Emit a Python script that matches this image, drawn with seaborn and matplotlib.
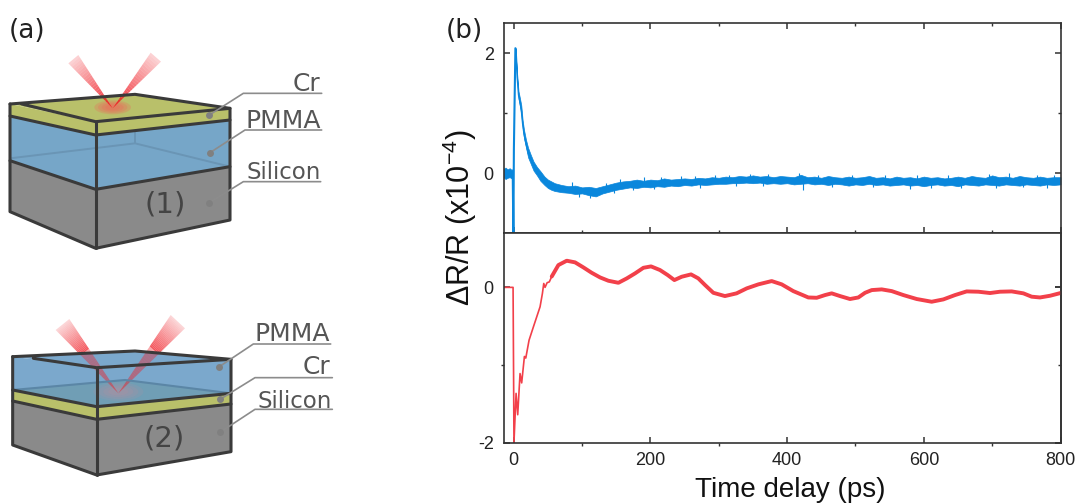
import numpy as np
import pandas as pd
import matplotlib
matplotlib.use("Agg")
import matplotlib.pyplot as plt
import seaborn as sns
from matplotlib.patches import Polygon, Ellipse

# trace values, time in ps, signal in 1e-4
blue_pre_time = [-15, -12, -9, -6, -3, -1.5]
blue_pre_upper = [0.07, 0.09, 0.06, 0.08, 0.05, 0.07]
blue_pre_lower = [-0.07, -0.10, -0.08, -0.07, -0.09, -0.06]
blue_rise_time = [-1.5, -0.6, -0.5, 0.2, 2.4]
blue_rise = [0.0, -1.0, -1.0, 0.4, 2.08]

blue_time = [3, 5, 7, 9, 11, 13, 15, 18, 21, 25, 29, 34, 39, 45, 50, 55, 60,
             70, 80, 90, 100, 110, 120, 130, 140, 150, 160, 170, 180, 190, 200,
             210, 220, 230, 240, 250, 260, 270, 280, 290, 300, 310, 320, 330, 340,
             350, 360, 370, 380, 390, 400, 410, 420, 430, 440, 450, 460, 470, 480,
             490, 500, 510, 520, 530, 540, 550, 560, 570, 580, 590, 600, 610, 620,
             630, 640, 650, 660, 670, 680, 690, 700, 710, 720, 730, 740, 750, 760,
             770, 780, 790, 800]
blue_upper = [2.08, 1.65, 1.36, 1.25, 1.13, 0.88, 0.72, 0.55, 0.42, 0.30, 0.19, 0.10, 0.03, -0.06, -0.11, -0.14, -0.17,
              -0.20, -0.22, -0.21, -0.24, -0.23, -0.25, -0.22, -0.19, -0.16, -0.14, -0.13, -0.11, -0.13, -0.11,
              -0.12, -0.09, -0.11, -0.10, -0.09, -0.10, -0.08, -0.09, -0.07, -0.08, -0.06, -0.07, -0.05, -0.06,
              -0.04, -0.06, -0.05, -0.07, -0.05, -0.06, -0.07, -0.03, -0.07, -0.06, -0.08, -0.05, -0.07, -0.08,
              -0.06, -0.08, -0.07, -0.05, -0.08, -0.07, -0.09, -0.06, -0.08, -0.07, -0.09, -0.06, -0.08, -0.07,
              -0.09, -0.08, -0.06, -0.08, -0.05, -0.07, -0.08, -0.04, -0.07, -0.06, -0.08, -0.05, -0.07, -0.08,
              -0.06, -0.08, -0.07, -0.07]
blue_lower = [1.95, 1.55, 1.24, 1.12, 0.98, 0.76, 0.58, 0.42, 0.26, 0.15, 0.04, -0.04, -0.13, -0.20, -0.25, -0.28, -0.30,
              -0.32, -0.33, -0.35, -0.34, -0.37, -0.39, -0.34, -0.31, -0.28, -0.26, -0.24, -0.25, -0.23, -0.24,
              -0.22, -0.23, -0.21, -0.22, -0.20, -0.21, -0.19, -0.20, -0.19, -0.18, -0.18, -0.17, -0.17, -0.16,
              -0.17, -0.16, -0.18, -0.17, -0.18, -0.17, -0.19, -0.18, -0.17, -0.19, -0.18, -0.20, -0.18, -0.19,
              -0.21, -0.19, -0.20, -0.18, -0.20, -0.19, -0.21, -0.20, -0.19, -0.21, -0.20, -0.22, -0.20, -0.19,
              -0.21, -0.20, -0.22, -0.19, -0.20, -0.21, -0.19, -0.20, -0.21, -0.19, -0.20, -0.21, -0.19, -0.20,
              -0.21, -0.19, -0.20, -0.19]
# single noise spikes that stick out of the band
blue_spike_time = [85, 135, 155, 190, 215, 245, 265, 295, 315, 345, 372, 418, 445, 495, 543, 590, 635, 695, 724, 765, 790,
                   95, 112, 147, 175, 205, 272, 325, 365, 423, 465, 526, 580, 610, 655, 705, 745, 780]
blue_spike_tip = [-0.15, -0.17, -0.10, -0.07, -0.06, -0.05, -0.05, -0.03, -0.03, -0.01, -0.01, 0.0, -0.03, -0.03, -0.03, -0.04, -0.03, -0.01, 0.0, -0.03, -0.03,
                  -0.40, -0.42, -0.33, -0.28, -0.27, -0.245, -0.21, -0.21, -0.28, -0.24, -0.24, -0.26, -0.25, -0.25, -0.25, -0.24, -0.25]

red_early_time = [-15, -1, -0.2, 0.3, 3.4, 5.8, 9.2, 11.6, 15.6, 17.6, 22.4, 28.7, 38.5, 41.9, 43.9, 45.8, 48.8, 52, 55.6]
red_early = [0.0, 0.0, -1.2, -2.0, -1.365, -1.64, -1.11, -1.23, -0.89, -0.91, -0.68, -0.51, -0.25, -0.08, 0.05, 0.0, 0.06, 0.07, 0.14]
red_time = [55.6, 65.3, 77.5, 89.7, 101.9, 114, 126.3, 138.5, 153.1, 165.3, 177.5, 189.7, 200.9, 214, 225.3, 235, 245.8,
            259.4, 270, 279.9, 292, 309, 326, 340.9, 358, 377.4, 392, 409, 423, 431, 443.3, 455.5, 465.2, 477.4, 492,
            504.2, 514, 523.8, 538.4, 553, 570, 589.6, 611.5, 628.6, 645.7, 662.7, 679.8, 696.9, 711.5, 728.6, 745.7,
            757.8, 770, 784.7, 800]
red = [0.14, 0.287, 0.343, 0.322, 0.257, 0.188, 0.128, 0.085, 0.059, 0.115, 0.18, 0.252, 0.27, 0.223, 0.158, 0.094, 0.137,
       0.167, 0.116, 0.03, -0.07, -0.112, -0.077, -0.013, 0.039, 0.081, 0.039, -0.048, -0.10, -0.13, -0.134, -0.099, -0.077, -0.112, -0.15,
       -0.13, -0.07, -0.035, -0.026, -0.048, -0.099, -0.15, -0.185, -0.155, -0.099, -0.052, -0.056, -0.073, -0.056, -0.052, -0.077,
       -0.12, -0.13, -0.108, -0.073]

time_ticks = [0, 200, 400, 600, 800]
time_labels = ["0", "200", "400", "600", "800"]
time_minor = [100, 300, 500, 700]

BLUE = "#0a87dc"
RED = "#f2404a"
DARK = "#333333"
EDGE = "#3a3a3a"
LAYER_CR = "#b9c06a"
LAYER_SI = "#8a8a8a"
LAYER_PMMA = "#76a6c8"
GREY_TXT = "#555555"

sns.set_theme(style="ticks")
plt.rcParams["font.family"] = ["Liberation Sans", "DejaVu Sans"]
plt.rcParams["mathtext.default"] = "regular"
plt.rcParams["axes.unicode_minus"] = False
plt.rcParams["axes.edgecolor"] = DARK
plt.rcParams["axes.linewidth"] = 1.2

W, H = 1080, 504
fig = plt.figure(figsize=(W / 100, H / 100), dpi=100)


def px_axes(left, top, right, bottom):
    return fig.add_axes([left / W, 1 - bottom / H, (right - left) / W, (bottom - top) / H])


# ---- panel (b)
ax_top = px_axes(503.5, 23, 1060.5, 233)
ax_bot = px_axes(503.5, 233, 1060.5, 442.7)

pre = pd.DataFrame({"t": blue_pre_time * 2, "v": blue_pre_upper + blue_pre_lower})
main = pd.DataFrame({"t": blue_time * 2, "v": blue_upper + blue_lower})
band_style = {"alpha": 1, "linewidth": 0.5, "edgecolor": BLUE}
for frame in (pre, main):
    sns.lineplot(data=frame, x="t", y="v", color=BLUE, lw=1.0, errorbar=("pi", 100),
                 err_kws=band_style, ax=ax_top)
sns.lineplot(x=blue_rise_time, y=blue_rise, color=BLUE, lw=1.5, sort=False, estimator=None, ax=ax_top)
band_mid = (np.array(blue_upper) + np.array(blue_lower)) / 2
spike_base = np.interp(blue_spike_time, blue_time, band_mid)
ax_top.vlines(blue_spike_time, spike_base, blue_spike_tip, color=BLUE, lw=0.8)

sns.lineplot(x=red_early_time, y=red_early, color=RED, lw=1.2, sort=False, estimator=None, ax=ax_bot)
sns.lineplot(x=red_time, y=red, color=RED, lw=2.8, sort=False, estimator=None, ax=ax_bot)

ax_top.set_xlim(-15, 800)
ax_top.set_ylim(-1, 2.5)
ax_bot.set_xlim(-15, 800)
ax_bot.set_ylim(-2, 0.7)

for ax in (ax_top, ax_bot):
    ax.set_xlabel("")
    ax.set_ylabel("")
    ax.set_xticks(time_ticks)
    ax.set_xticks(time_minor, minor=True)
    ax.tick_params(which="major", direction="in", length=4.5, width=1.1, color=DARK,
                   labelsize=13, labelcolor="#222222", pad=7)
    ax.tick_params(which="minor", length=2.5, width=1.0, color=DARK)

ax_top.set_yticks([0, 2])
ax_top.set_yticklabels(["0", "2"])
ax_top.set_yticks([1], minor=True)
ax_top.set_xticklabels([])
ax_top.tick_params(axis="both", which="both", direction="in", top=True, right=True, bottom=True, left=True)

ax_bot.set_yticks([-2, 0])
ax_bot.set_yticklabels(["-2", "0"])
ax_bot.set_yticks([-1], minor=True)
ax_bot.set_xticklabels(time_labels)
ax_bot.tick_params(axis="x", which="minor", direction="out", top=False)
ax_bot.tick_params(axis="y", which="minor", direction="out", right=False)
ax_bot.tick_params(axis="y", which="major", direction="in", right=True)
right_side = ax_bot.secondary_yaxis("right")
right_side.set_yticks([-2, 0])
right_side.set_yticklabels([])
right_side.set_yticks([-1], minor=True)
right_side.tick_params(which="major", direction="in", length=4.5, width=1.1, color=DARK)
right_side.tick_params(which="minor", direction="in", length=2.5, width=1.0, color=DARK)

# ---- overlay in pixel coordinates for panel (a) and the labels
ov = fig.add_axes([0, 0, 1, 1], zorder=5)
ov.set_xlim(0, W)
ov.set_ylim(H, 0)
ov.axis("off")
ov.patch.set_alpha(0)

ov.text(790, 497, "Time delay (ps)", fontsize=20, color="#111111", ha="center", va="baseline")
ov.text(460, 218, "ΔR/R (x10$^{-4}$)", rotation=90, fontsize=22, color="#111111", ha="center", va="center")
ov.text(9, 38, "(a)", family="DejaVu Sans", fontsize=19, color="#222222")
ov.text(446, 38, "(b)", family="DejaVu Sans", fontsize=19, color="#222222")


def pts(coords, origin_y):
    # coordinates below were measured on a 3x crop starting at (0, origin_y)
    return [(x / 3, origin_y + y / 3) for x, y in coords]


def face(coords, origin_y, color, alpha=1.0):
    ov.add_patch(Polygon(pts(coords, origin_y), closed=True, fc=color, ec="none", alpha=alpha))


def edge(coords, origin_y, color=EDGE, lw=2.2, alpha=1.0):
    xy = np.array(pts(coords, origin_y))
    ov.plot(xy[:, 0], xy[:, 1], color=color, lw=lw, alpha=alpha, solid_joinstyle="round", solid_capstyle="round")


def beam(apex, far_a, far_b, origin_y, f0, f1, a0, a1, steps=24):
    p = np.array(pts([apex, far_a, far_b], origin_y))
    fr = np.linspace(f0, f1, steps + 1)
    for i in range(steps):
        q0 = p[0] + (p[1] - p[0]) * fr[i]
        q1 = p[0] + (p[2] - p[0]) * fr[i]
        q2 = p[0] + (p[2] - p[0]) * fr[i + 1]
        q3 = p[0] + (p[1] - p[0]) * fr[i + 1]
        a = a0 + (a1 - a0) * i / (steps - 1)
        ov.add_patch(Polygon([q0, q1, q2, q3], closed=True, fc="#f01c24", ec="none", alpha=a))


def spot(center, width, height, origin_y, color, alpha):
    cx, cy = pts([center], origin_y)[0]
    for k in (1.0, 0.8, 0.6, 0.4):
        ov.add_patch(Ellipse((cx, cy), width / 3 * k, height / 3 * k, fc=color, ec="none", alpha=alpha))


def callout(dot, elbow, end, origin_y, label, label_right, baseline, size=18):
    edge([dot, elbow, end], origin_y, color="#8c8c8c", lw=1.2)
    xy = pts([dot], origin_y)[0]
    ov.plot(xy[0], xy[1], "o", ms=5, color="#808080", mec="none")
    tx, ty = pts([(label_right, baseline)], origin_y)[0]
    ov.text(tx, ty, label, family="DejaVu Sans", fontsize=size, color=GREY_TXT, ha="right", va="baseline")


# structure (1)
y1 = 30
face([(30, 392), (287, 478), (287, 655), (30, 545)], y1, LAYER_SI)
face([(287, 478), (690, 410), (690, 570), (287, 655)], y1, LAYER_SI)
face([(30, 258), (287, 315), (287, 478), (30, 392)], y1, LAYER_PMMA)
face([(287, 315), (690, 270), (690, 410), (287, 478)], y1, LAYER_PMMA)
edge([(405, 305), (405, 340)], y1, color="#6a95b5", lw=1.4)
edge([(30, 385), (405, 340), (690, 410)], y1, color="#6a95b5", lw=1.4)
face([(30, 222), (287, 275), (287, 315), (30, 258)], y1, LAYER_CR)
face([(287, 275), (690, 235), (690, 270), (287, 315)], y1, LAYER_CR)
face([(30, 222), (405, 193), (690, 235), (287, 275)], y1, LAYER_CR)
spot((338, 232), 110, 42, y1, "#f2605a", 0.25)
beam((338, 235), (205, 100), (235, 75), y1, 0.0, 1.0, 0.95, 0.2)
beam((338, 235), (452, 68), (483, 95), y1, 0.0, 1.0, 0.95, 0.2)
edge([(30, 222), (405, 193), (690, 235), (287, 275), (65, 222)], y1)
edge([(30, 222), (30, 545), (287, 655), (690, 570), (690, 235)], y1)
edge([(287, 275), (287, 655)], y1)
edge([(30, 258), (287, 315), (690, 270)], y1)
edge([(30, 392), (287, 478), (690, 410)], y1)
ov.text(165, 205, "(1)", family="DejaVu Sans", fontsize=21, color="#444444", ha="center", va="center")
callout((628, 255), (730, 190), (965, 190), y1, "Cr", 960, 182)
callout((630, 368), (735, 300), (965, 300), y1, "PMMA", 962, 293)
callout((628, 518), (730, 455), (962, 455), y1, "Silicon", 962, 447, size=16.5)

# structure (2)
y2 = 300
face([(38, 303), (290, 358), (290, 525), (38, 435)], y2, LAYER_SI)
face([(290, 358), (693, 312), (693, 455), (290, 525)], y2, LAYER_SI)
face([(38, 270), (290, 320), (290, 358), (38, 303)], y2, LAYER_CR)
face([(290, 320), (693, 280), (693, 312), (290, 358)], y2, LAYER_CR)
face([(38, 270), (375, 240), (693, 280), (290, 320)], y2, LAYER_CR)
face([(38, 170), (290, 203), (290, 320), (38, 270)], y2, "#6499c3", alpha=0.85)
face([(290, 203), (693, 178), (693, 280), (290, 320)], y2, "#6499c3", alpha=0.85)
face([(38, 170), (405, 153), (693, 178), (290, 203)], y2, "#6499c3", alpha=0.85)
spot((355, 275), 150, 55, y2, "#d88a96", 0.12)
beam((355, 280), (167, 90), (208, 57), y2, 0.0, 0.6, 0.5, 0.38)
beam((355, 280), (512, 45), (555, 85), y2, 0.0, 0.6, 0.5, 0.38)
beam((355, 280), (167, 90), (208, 57), y2, 0.6, 1.0, 0.75, 0.18)
beam((355, 280), (512, 45), (555, 85), y2, 0.6, 1.0, 0.75, 0.18)
edge([(38, 270), (375, 240), (693, 280)], y2, color="#5b86a6", lw=1.5)
edge([(38, 170), (405, 153), (693, 178), (290, 203), (100, 175)], y2)
edge([(38, 170), (38, 435), (290, 525), (693, 455), (693, 178)], y2)
edge([(290, 203), (290, 525)], y2)
edge([(38, 270), (290, 320), (693, 280)], y2)
edge([(38, 303), (290, 358), (693, 312)], y2)
ov.text(164, 438, "(2)", family="DejaVu Sans", fontsize=21, color="#444444", ha="center", va="center")
callout((658, 200), (760, 132), (992, 132), y2, "PMMA", 990, 123)
callout((660, 298), (765, 233), (997, 233), y2, "Cr", 992, 222)
callout((660, 397), (765, 328), (997, 328), y2, "Silicon", 997, 323, size=16.5)

fig.savefig("out.png", dpi=100)
